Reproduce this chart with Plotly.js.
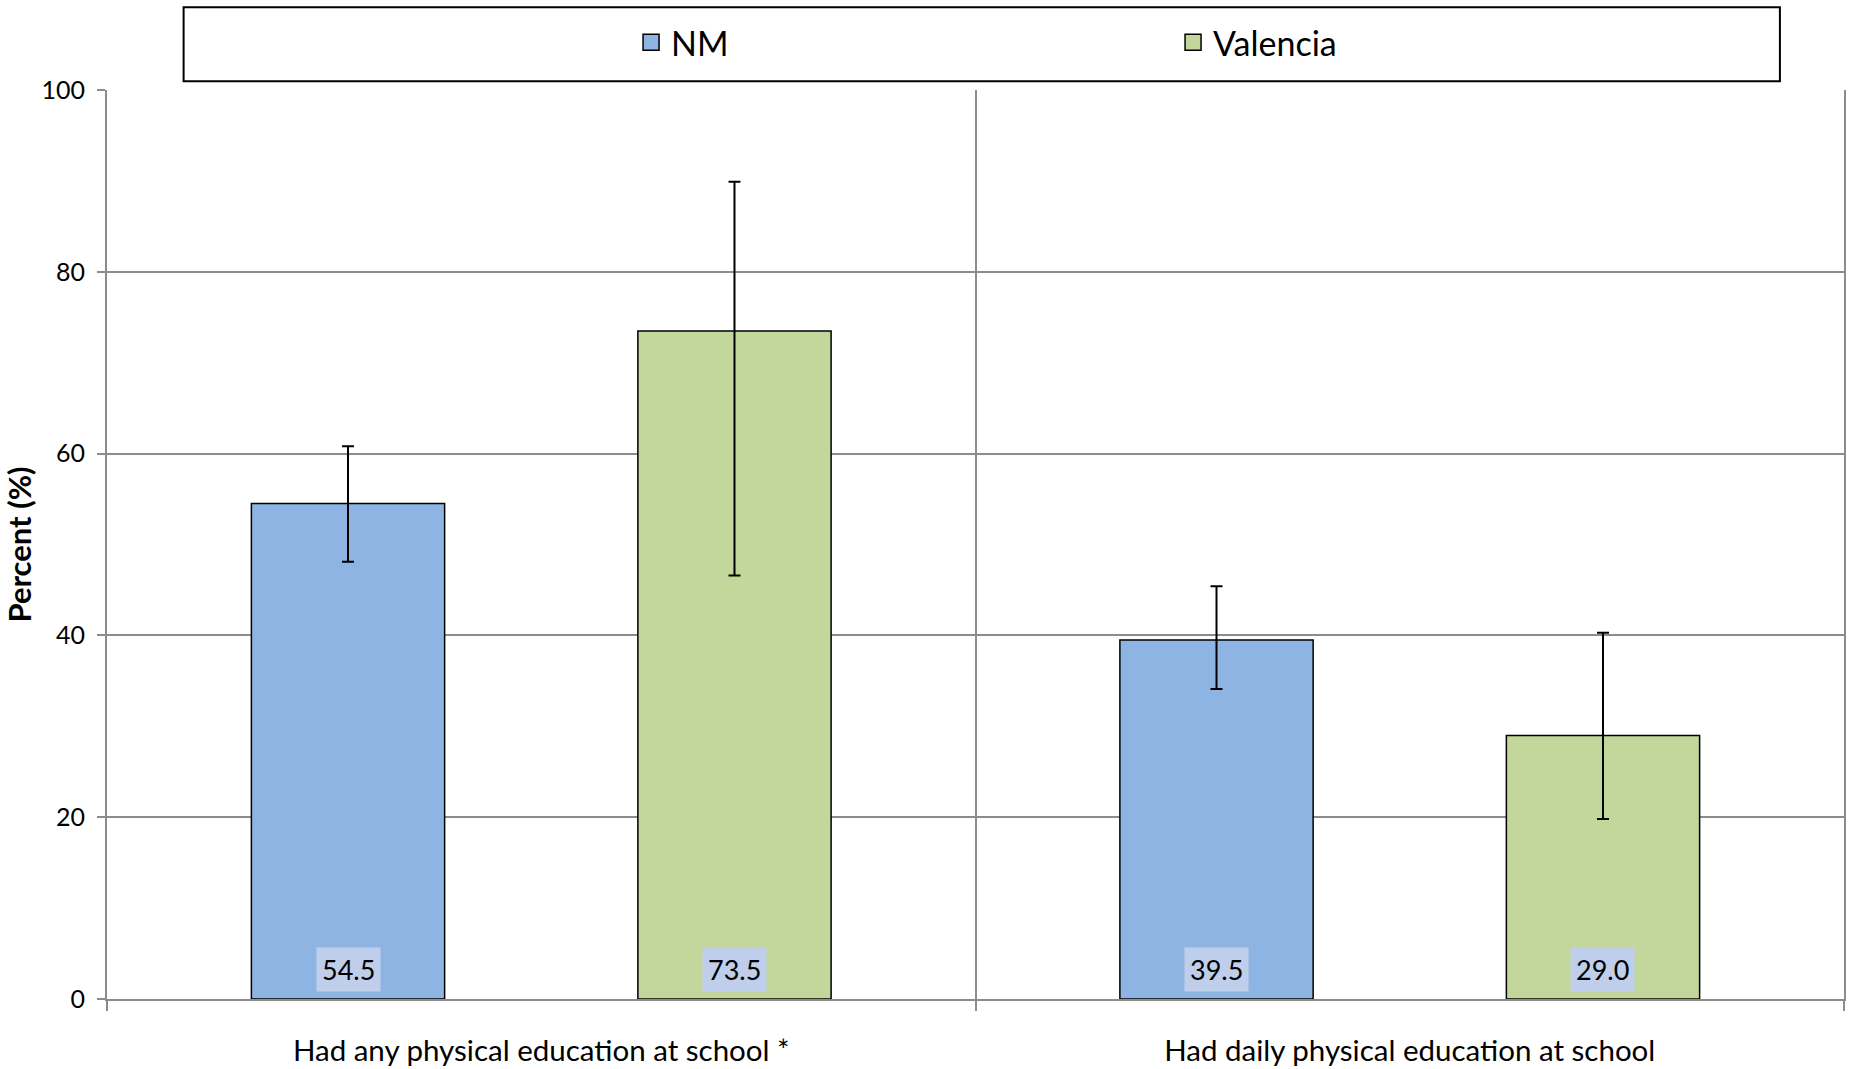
<!DOCTYPE html>
<html>
<head>
<meta charset="utf-8">
<script src="https://cdn.plot.ly/plotly-3.0.1.min.js"></script>
<style>
  html, body { margin: 0; padding: 0; background: #ffffff; }
  #chart { width: 1851px; height: 1069px; }
</style>
</head>
<body>
<div id="chart"></div>
<script>
// ---- data ----
const categories = ["Had any physical education at school *", "Had daily physical education at school"];
const seriesNames = ["NM", "Valencia"];
const nmValues = [54.5, 39.5];
const nmUpper = [60.8, 45.4];
const nmLower = [48.1, 34.1];
const valenciaValues = [73.5, 29.0];
const valenciaUpper = [89.9, 40.3];
const valenciaLower = [46.6, 19.8];
const yTickValues = [0, 20, 40, 60, 80, 100];

// ---- style ----
const FONT = "Lato, 'Open Sans', sans-serif";
const colors = ["#8EB4E3", "#C3D69B"];
const gridColor = "#8C8C8C";
const bargap = 0.11;
const bargroupgap = 0.5;

function makeBar(name, values, upper, lower, color) {
  return {
    type: "bar",
    name: name,
    x: categories,
    y: values,
    showlegend: false,
    legendgroup: name,
    marker: { color: color, line: { color: "#000000", width: 1.5 } },
    error_y: {
      type: "data",
      symmetric: false,
      array: upper.map((u, i) => u - values[i]),
      arrayminus: lower.map((l, i) => values[i] - l),
      color: "#000000",
      thickness: 2,
      width: 6
    },
    hoverinfo: "none"
  };
}

// legend-only entries with larger square swatches
function makeLegendEntry(name, color) {
  return {
    type: "scatter",
    mode: "markers",
    name: name,
    legendgroup: name,
    x: [null],
    y: [null],
    marker: { symbol: "square", size: 18, color: color, line: { color: "#000000", width: 1.5 } },
    hoverinfo: "none"
  };
}

const traces = [
  makeBar(seriesNames[0], nmValues, nmUpper, nmLower, colors[0]),
  makeBar(seriesNames[1], valenciaValues, valenciaUpper, valenciaLower, colors[1]),
  makeLegendEntry(seriesNames[0], colors[0]),
  makeLegendEntry(seriesNames[1], colors[1])
];

// data label annotations at the base of each bar
const slot = (1 - bargap) / seriesNames.length;
const annotations = [];
[nmValues, valenciaValues].forEach((vals, s) => {
  const offset = -((1 - bargap) / 2) + slot * (s + 0.5);
  vals.forEach((v, i) => {
    annotations.push({
      xref: "x", yref: "y",
      x: i + offset, y: 0,
      yanchor: "bottom", xanchor: "center",
      yshift: 7,
      text: v.toFixed(1),
      showarrow: false,
      font: { family: FONT, size: 27, color: "#000000" },
      bgcolor: "#BFCEEB",
      borderpad: 5
    });
  });
});

const layout = {
  width: 1851,
  height: 1069,
  paper_bgcolor: "#ffffff",
  plot_bgcolor: "#ffffff",
  margin: { l: 107, r: 7, t: 90, b: 70, autoexpand: false },
  barmode: "group",
  bargap: bargap,
  bargroupgap: bargroupgap,
  font: { family: FONT, color: "#000000" },
  showlegend: true,
  legend: {
    orientation: "h",
    x: 0.3017, xanchor: "left",
    y: 1.052, yanchor: "middle",
    entrywidth: 497,
    font: { family: FONT, size: 34, color: "#000000" },
    bgcolor: "rgba(0,0,0,0)",
    borderwidth: 0,
    itemclick: false,
    itemdoubleclick: false
  },
  xaxis: {
    type: "category",
    tickson: "boundaries",
    ticks: "outside",
    ticklen: 10,
    tickwidth: 2,
    tickcolor: gridColor,
    showgrid: true,
    gridcolor: gridColor,
    gridwidth: 2,
    showline: true,
    linecolor: gridColor,
    linewidth: 2,
    mirror: false,
    tickfont: { family: FONT, size: 29.5, color: "#000000" },
    ticklabelstandoff: 25,
    fixedrange: true
  },
  yaxis: {
    range: [0, 100],
    tickvals: yTickValues,
    ticktext: yTickValues.map(String),
    ticks: "outside",
    ticklen: 8,
    tickwidth: 2,
    tickcolor: gridColor,
    showgrid: true,
    gridcolor: gridColor,
    gridwidth: 2,
    zeroline: false,
    showline: true,
    linecolor: gridColor,
    linewidth: 2,
    mirror: true,
    tickfont: { family: FONT, size: 25, color: "#000000" },
    ticklabelstandoff: 7,
    title: {
      text: "<b>Percent (%)</b>",
      font: { family: FONT, size: 31, color: "#000000" },
      standoff: 4
    },
    fixedrange: true
  },
  shapes: [
    {
      type: "rect",
      xref: "paper", yref: "paper",
      x0: 0.0441, x1: 0.9631,
      y0: 1.0096, y1: 1.0909,
      line: { color: "#000000", width: 2 },
      fillcolor: "rgba(0,0,0,0)",
      layer: "above"
    }
  ],
  annotations: annotations
};

Plotly.newPlot("chart", traces, layout, { displayModeBar: false, staticPlot: true });
</script>
</body>
</html>
